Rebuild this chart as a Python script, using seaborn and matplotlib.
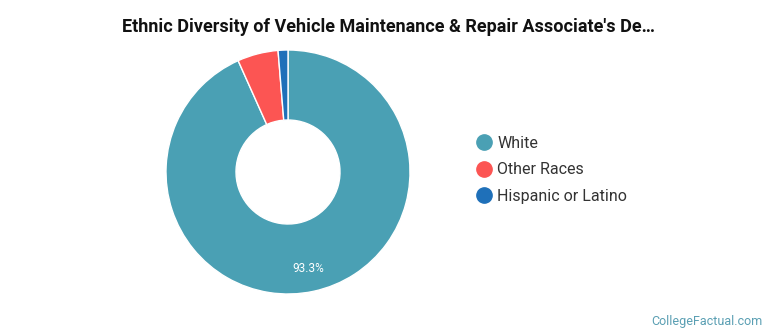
import matplotlib
matplotlib.use("Agg")
import matplotlib.pyplot as plt
import seaborn as sns
from matplotlib.lines import Line2D

sns.set_style("white")
plt.rcParams['font.family'] = ['Roboto', 'DejaVu Sans']

categories = ["White", "Other Races", "Hispanic or Latino"]
values = [93.3, 5.4, 1.3]
colors = ["#4aa0b4", "#fc5553", "#1f70b9"]
title = "Ethnic Diversity of Vehicle Maintenance & Repair Associate's De\u2026"

W, H = 770, 335
fig = plt.figure(figsize=(W / 100, H / 100), dpi=100)
cx, cy, half = 288, H - 172, 125
ax = fig.add_axes([(cx - half) / W, (cy - half) / H, 2 * half / W, 2 * half / H])

def fmt(p):
    return f"{p:.1f}%" if p > 10 else ""

wedges, texts, autotexts = ax.pie(
    values, colors=colors, startangle=90, counterclock=False,
    radius=122 / 125, autopct=fmt, pctdistance=0.81,
    wedgeprops=dict(width=(122 - 52) / 125, edgecolor="white", linewidth=1),
    textprops=dict(color="white", fontsize=8.5))
ax.set_xlim(-1, 1)
ax.set_ylim(-1, 1)
ax.set_aspect("equal")
ax.axis("off")

fig.text(0.5 * (125 + 652) / W, 1 - 27 / H, title, ha="center", va="center",
         fontsize=13, fontweight="bold", color="#111111")

handles = [Line2D([0], [0], marker="o", linestyle="", markersize=11,
                  markerfacecolor=c, markeredgecolor=c) for c in colors]
fig.legend(handles, categories, loc="center left",
           bbox_to_anchor=(458 / W, 1 - 170 / H), frameon=False,
           fontsize=11.5, handletextpad=0.15, labelspacing=0.72, handlelength=1.4,
           labelcolor="#333333")

fig.text(763 / W, 1 - 321 / H, "CollegeFactual.com", ha="right", va="center",
         fontsize=9, color="#5a9fb3")

fig.savefig("out.png", dpi=100)
